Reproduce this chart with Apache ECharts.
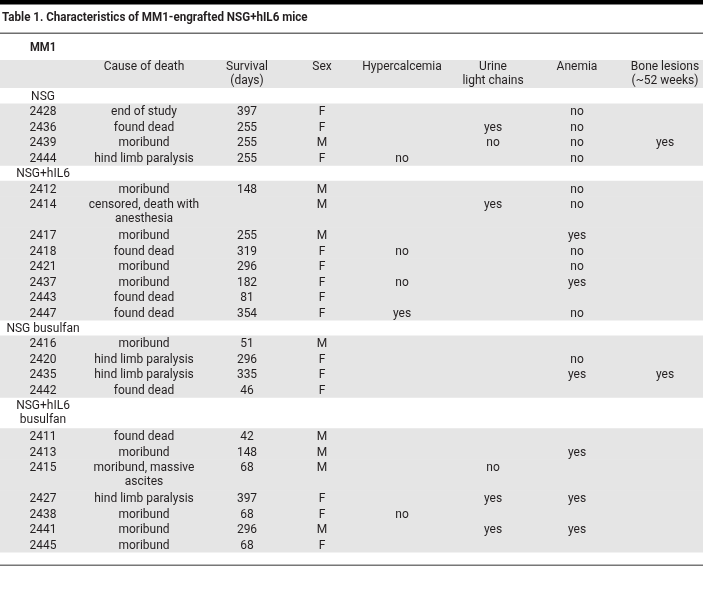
<!DOCTYPE html>
<html>
<head>
<meta charset="utf-8">
<script src="https://cdn.jsdelivr.net/npm/echarts@6/dist/echarts.min.js"></script>
<style>html,body{margin:0;padding:0;background:#fff}#c{width:703px;height:612px}</style>
</head>
<body>
<div id="c"></div>
<script>
// ---- data ----
const tableTitle = 'Table 1. Characteristics of MM1-engrafted NSG+hIL6 mice';
const cellLine = 'MM1';
const headers = ['', 'Cause of death', 'Survival\n(days)', 'Sex', 'Hypercalcemia', 'Urine\nlight chains', 'Anemia', 'Bone lesions\n(~52 weeks)'];
const groups = ['NSG', 'NSG+hIL6', 'NSG busulfan', 'NSG+hIL6\nbusulfan'];
const rowGroup = [0,0,0,0, 1,1,1,1,1,1,1,1, 2,2,2,2, 3,3,3,3,3,3,3];
const mouseId = ['2428','2436','2439','2444', '2412','2414','2417','2418','2421','2437','2443','2447', '2416','2420','2435','2442', '2411','2413','2415','2427','2438','2441','2445'];
const causeOfDeath = ['end of study','found dead','moribund','hind limb paralysis',
  'moribund','censored, death with\nanesthesia','moribund','found dead','moribund','moribund','found dead','found dead',
  'moribund','hind limb paralysis','hind limb paralysis','found dead',
  'found dead','moribund','moribund, massive\nascites','hind limb paralysis','moribund','moribund','moribund'];
const survivalDays = ['397','255','255','255', '148','','255','319','296','182','81','354', '51','296','335','46', '42','148','68','397','68','296','68'];
const sex = ['F','F','M','F', 'M','M','M','F','F','F','F','F', 'M','F','F','F', 'M','M','M','F','F','M','F'];
const hypercalcemia = ['','','','no', '','','','no','','no','','yes', '','','','', '','','','','no','',''];
const urineLightChains = ['','yes','no','', '','yes','','','','','','', '','','','', '','','no','yes','','yes',''];
const anemia = ['no','no','no','no', 'no','no','yes','no','no','yes','','no', '','no','yes','', '','yes','','yes','','yes',''];
const boneLesions = ['','','yes','', '','','','','','','','', '','','yes','', '','','','','','',''];

// ---- layout ----
const W = 703;
const colCenter = [43, 144, 247, 322, 402, 493, 577, 665];
const FONT = 'Roboto, "Liberation Sans", sans-serif';
const TXT = '#231f20';

const columns = [mouseId, causeOfDeath, survivalDays, sex, hypercalcemia, urineLightChains, anemia, boneLesions];
const nLines = s => s ? s.split('\n').length : 1;

const bands = [];   // [yStart, lines, gray]
const cells = [];   // [col, yStart, text]
let y = 0;
let lastGroup = -1;
for (let i = 0; i < mouseId.length; i++) {
  if (rowGroup[i] !== lastGroup) {
    lastGroup = rowGroup[i];
    const g = groups[lastGroup];
    const l = nLines(g);
    bands.push([y, l, 0]);
    cells.push([0, y, g]);
    y += l;
  }
  let l = 1;
  columns.forEach(c => { l = Math.max(l, nLines(c[i])); });
  bands.push([y, l, 1]);
  columns.forEach((c, ci) => { if (c[i]) cells.push([ci, y, c[i]]); });
  y += l;
}
const totalLines = y;

const chart = echarts.init(document.getElementById('c'), null, {renderer: 'canvas'});

const headerGraphics = headers.map((h, i) => ({
  type: 'text', x: colCenter[i], y: 60.5,
  style: {text: h, fill: TXT, font: '12px ' + FONT, align: 'center', verticalAlign: 'top', lineHeight: 13.5}
}));

chart.setOption({
  animation: false,
  grid: {left: 0, right: 0, top: 88, bottom: 60},
  xAxis: {type: 'value', min: 0, max: W, show: false},
  yAxis: {type: 'value', min: 0, max: totalLines, inverse: true, show: false},
  graphic: [
    {type: 'rect', shape: {x: 0, y: 0, width: W, height: 4.5}, style: {fill: '#000'}},
    {type: 'text', x: 2, y: 11, scaleX: 0.86, style: {text: tableTitle, fill: TXT, font: 'bold 13.5px ' + FONT, verticalAlign: 'top'}},
    {type: 'rect', shape: {x: 0, y: 32.5, width: W, height: 1.5}, style: {fill: '#6e6e6e'}},
    {type: 'text', x: 30, y: 41.5, scaleX: 0.9, style: {text: cellLine, fill: TXT, font: 'bold 12.5px ' + FONT, verticalAlign: 'top'}},
    {type: 'rect', shape: {x: 0, y: 60, width: W, height: 28}, style: {fill: '#e5e5e5'}},
    ...headerGraphics,
    {type: 'rect', shape: {x: 0, y: 564.5, width: W, height: 1.5}, style: {fill: '#777'}}
  ],
  series: [
    {
      type: 'custom', data: bands, silent: true,
      renderItem: (params, api) => {
        if (!api.value(2)) return null;
        const p0 = api.coord([0, api.value(0)]);
        const p1 = api.coord([W, api.value(0) + api.value(1)]);
        return {type: 'rect', shape: {x: p0[0], y: p0[1], width: p1[0] - p0[0], height: p1[1] - p0[1] + 0.5}, style: {fill: '#e5e5e5'}};
      }
    },
    {
      type: 'custom', data: cells, silent: true, z: 5,
      renderItem: (params, api) => {
        const d = cells[params.dataIndex];
        const p = api.coord([colCenter[d[0]], d[1] + 0.5]);
        return {type: 'text', x: p[0], y: p[1] - 5.5,
          style: {text: d[2], fill: TXT, font: '12px ' + FONT, align: 'center', verticalAlign: 'top', lineHeight: 13.5}};
      }
    }
  ]
});
</script>
</body>
</html>
